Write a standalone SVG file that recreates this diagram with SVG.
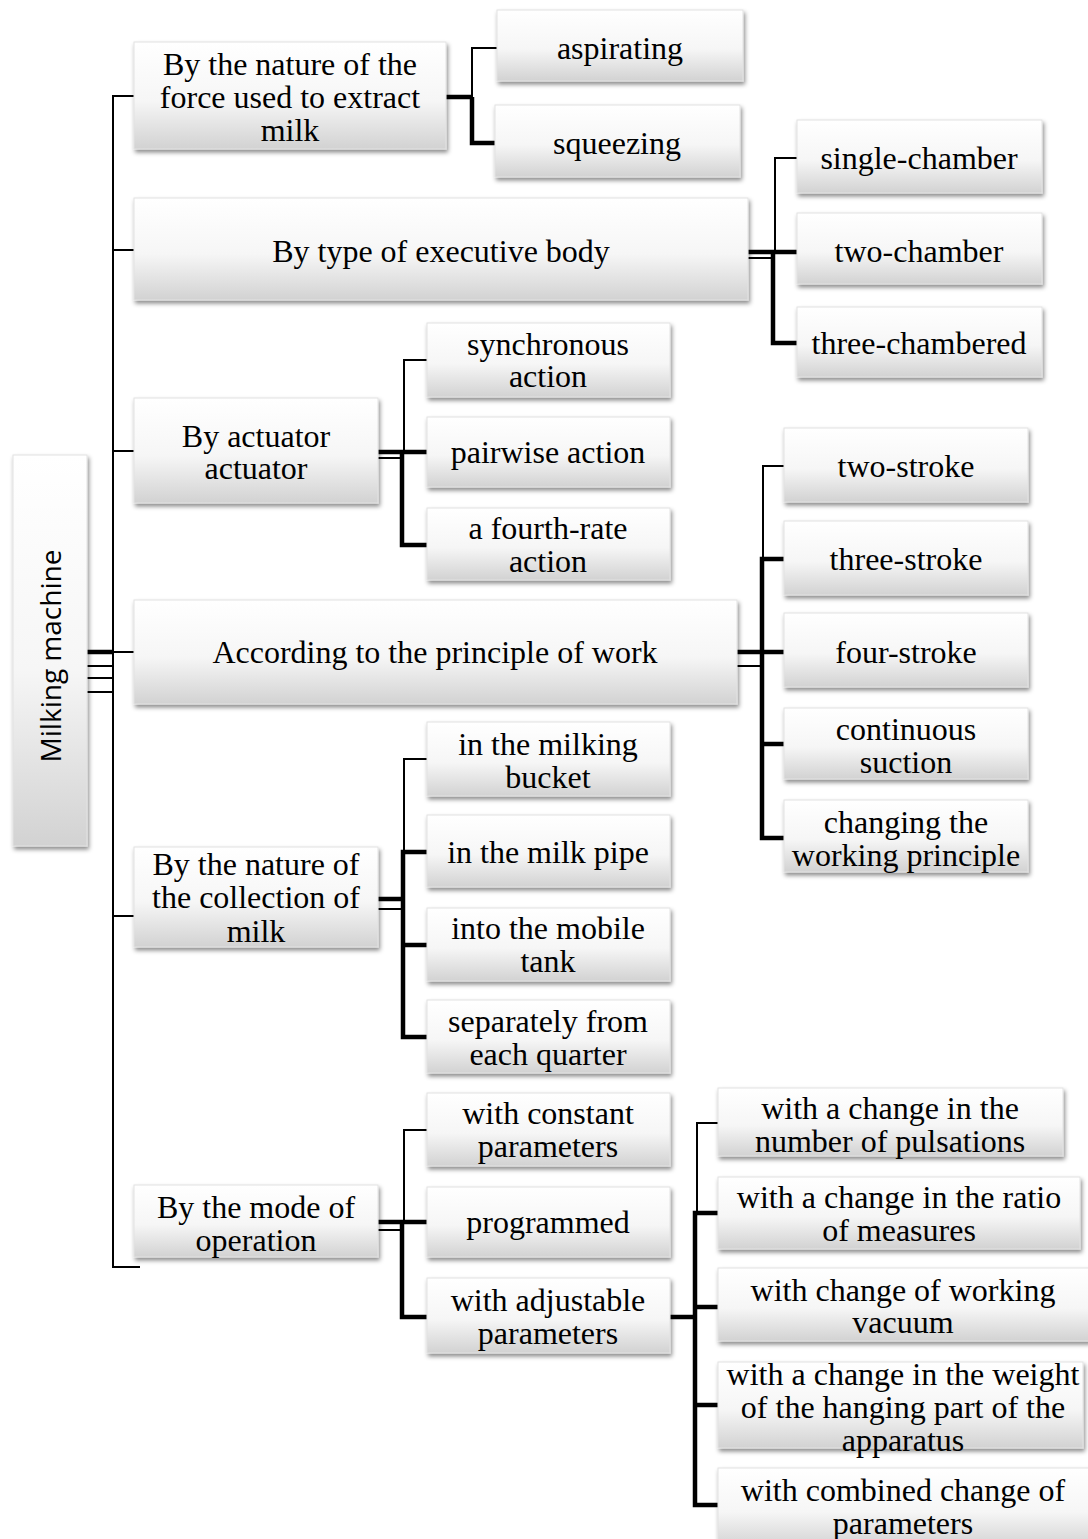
<svg xmlns="http://www.w3.org/2000/svg" width="1088" height="1539" viewBox="0 0 1088 1539">
<defs>
  <linearGradient id="gv" x1="0" y1="0" x2="0" y2="1">
    <stop offset="0" stop-color="#ffffff"/>
    <stop offset="0.55" stop-color="#f6f6f6"/>
    <stop offset="1" stop-color="#d2d2d2"/>
  </linearGradient>
  <filter id="sh" x="-10%" y="-10%" width="125%" height="130%">
    <feDropShadow dx="1.5" dy="3" stdDeviation="2" flood-color="#000" flood-opacity="0.45"/>
  </filter>
</defs>
<style>
  .box { fill: url(#gv); stroke: #e2e2e2; stroke-width: 1; filter: url(#sh); }
  .t { font-family: "Liberation Serif", "Times New Roman", serif; font-size: 32px; fill: #000; text-anchor: middle; }
  .root { font-family: "Open Sans", "Liberation Sans", sans-serif; font-size: 28px; fill: #000; text-anchor: middle; dominant-baseline: central; }
  .thin { stroke: #000; stroke-width: 2; fill: none; }
  .thick { stroke: #000; stroke-width: 4.5; fill: none; }
</style>
<rect width="1088" height="1539" fill="#ffffff"/>

<g id="connectors">
  <line class="thick" x1="87" y1="652" x2="113" y2="652"/>
  <line class="thin" x1="87" y1="666" x2="113" y2="666"/>
  <line class="thin" x1="87" y1="678" x2="113" y2="678"/>
  <line class="thin" x1="87" y1="692" x2="113" y2="692"/>
  <polyline class="thin" points="134,96 113,96 113,1267 140,1267"/>
  <line class="thin" x1="113" y1="250" x2="134" y2="250"/>
  <line class="thin" x1="113" y1="451" x2="134" y2="451"/>
  <line class="thin" x1="113" y1="652" x2="134" y2="652"/>
  <line class="thin" x1="113" y1="916" x2="134" y2="916"/>

  <line class="thick" x1="446" y1="97" x2="472" y2="97"/>
  <polyline class="thin" points="472,97 472,48 497,48"/>
  <polyline class="thick" points="472,97 472,143 496,143"/>

  <line class="thick" x1="748" y1="252" x2="775" y2="252"/>
  <line class="thin" x1="748" y1="258" x2="773" y2="258"/>
  <polyline class="thin" points="775,252 775,158 797,158"/>
  <line class="thick" x1="775" y1="252" x2="797" y2="252"/>
  <polyline class="thick" points="773,252 773,343 797,343"/>

  <line class="thick" x1="378" y1="452" x2="404" y2="452"/>
  <line class="thin" x1="378" y1="458" x2="402" y2="458"/>
  <polyline class="thin" points="404,452 404,360 427,360"/>
  <line class="thick" x1="404" y1="452" x2="427" y2="452"/>
  <polyline class="thick" points="402,452 402,545 427,545"/>

  <line class="thick" x1="737" y1="652" x2="762" y2="652"/>
  <line class="thin" x1="737" y1="666" x2="762" y2="666"/>
  <polyline class="thin" points="784,466 763,466 763,559"/>
  <polyline class="thick" points="784,559 762,559 762,838 784,838"/>
  <line class="thick" x1="762" y1="652" x2="784" y2="652"/>
  <line class="thick" x1="762" y1="744" x2="784" y2="744"/>

  <line class="thick" x1="378" y1="899" x2="403" y2="899"/>
  <line class="thin" x1="378" y1="909" x2="403" y2="909"/>
  <polyline class="thin" points="427,759 404,759 404,852"/>
  <polyline class="thick" points="427,852 403,852 403,1037 427,1037"/>
  <line class="thick" x1="403" y1="945" x2="427" y2="945"/>

  <line class="thick" x1="378" y1="1222" x2="404" y2="1222"/>
  <line class="thin" x1="378" y1="1230" x2="403" y2="1230"/>
  <polyline class="thin" points="404,1222 404,1130 427,1130"/>
  <line class="thick" x1="404" y1="1222" x2="427" y2="1222"/>
  <polyline class="thick" points="402,1222 402,1317 427,1317"/>

  <line class="thick" x1="670" y1="1317" x2="696" y2="1317"/>
  <polyline class="thin" points="718,1123 697,1123 697,1213"/>
  <polyline class="thick" points="718,1213 695,1213 695,1505 718,1505"/>
  <line class="thick" x1="695" y1="1307" x2="718" y2="1307"/>
  <line class="thick" x1="695" y1="1405" x2="718" y2="1405"/>
</g>

<g id="root">
  <rect class="box" x="13" y="455" width="74" height="391"/>
  <text class="root" transform="translate(50,656) rotate(-90)">Milking machine</text>
</g>

<g id="n1">
  <rect class="box" x="134" y="42" width="312" height="107"/>
  <text class="t"><tspan x="290" y="75">By the nature of the</tspan><tspan x="290" y="108">force used to extract</tspan><tspan x="290" y="141">milk</tspan></text>
</g>
<g id="n1a">
  <rect class="box" x="497" y="10" width="246" height="71"/>
  <text class="t" x="620" y="59">aspirating</text>
</g>
<g id="n1b">
  <rect class="box" x="495" y="105" width="245" height="72"/>
  <text class="t" x="617" y="154">squeezing</text>
</g>

<g id="n2">
  <rect class="box" x="134" y="198" width="614" height="102"/>
  <text class="t" x="441" y="262">By type of executive body</text>
</g>
<g id="n2a">
  <rect class="box" x="797" y="120" width="245" height="73"/>
  <text class="t" x="919" y="169">single-chamber</text>
</g>
<g id="n2b">
  <rect class="box" x="797" y="213" width="245" height="71"/>
  <text class="t" x="919" y="262">two-chamber</text>
</g>
<g id="n2c">
  <rect class="box" x="797" y="307" width="245" height="70"/>
  <text class="t" x="919" y="354">three-chambered</text>
</g>

<g id="n3">
  <rect class="box" x="134" y="398" width="244" height="105"/>
  <text class="t"><tspan x="256" y="447">By actuator</tspan><tspan x="256" y="479">actuator</tspan></text>
</g>
<g id="n3a">
  <rect class="box" x="427" y="323" width="243" height="74"/>
  <text class="t"><tspan x="548" y="355">synchronous</tspan><tspan x="548" y="387">action</tspan></text>
</g>
<g id="n3b">
  <rect class="box" x="427" y="417" width="243" height="70"/>
  <text class="t" x="548" y="463">pairwise action</text>
</g>
<g id="n3c">
  <rect class="box" x="427" y="508" width="243" height="72"/>
  <text class="t"><tspan x="548" y="539">a fourth-rate</tspan><tspan x="548" y="572">action</tspan></text>
</g>

<g id="n4">
  <rect class="box" x="134" y="600" width="603" height="104"/>
  <text class="t" x="435" y="663">According to the principle of work</text>
</g>
<g id="n4a">
  <rect class="box" x="784" y="428" width="244" height="74"/>
  <text class="t" x="906" y="477">two-stroke</text>
</g>
<g id="n4b">
  <rect class="box" x="784" y="521" width="244" height="74"/>
  <text class="t" x="906" y="570">three-stroke</text>
</g>
<g id="n4c">
  <rect class="box" x="784" y="613" width="244" height="74"/>
  <text class="t" x="906" y="663">four-stroke</text>
</g>
<g id="n4d">
  <rect class="box" x="784" y="708" width="244" height="71"/>
  <text class="t"><tspan x="906" y="740">continuous</tspan><tspan x="906" y="773">suction</tspan></text>
</g>
<g id="n4e">
  <rect class="box" x="784" y="800" width="244" height="72"/>
  <text class="t"><tspan x="906" y="833">changing the</tspan><tspan x="906" y="866">working principle</tspan></text>
</g>

<g id="n5">
  <rect class="box" x="134" y="847" width="244" height="100"/>
  <text class="t"><tspan x="256" y="875">By the nature of</tspan><tspan x="256" y="908">the collection of</tspan><tspan x="256" y="942">milk</tspan></text>
</g>
<g id="n5a">
  <rect class="box" x="427" y="722" width="243" height="74"/>
  <text class="t"><tspan x="548" y="755">in the milking</tspan><tspan x="548" y="788">bucket</tspan></text>
</g>
<g id="n5b">
  <rect class="box" x="427" y="815" width="243" height="72"/>
  <text class="t" x="548" y="863">in the milk pipe</text>
</g>
<g id="n5c">
  <rect class="box" x="427" y="908" width="243" height="73"/>
  <text class="t"><tspan x="548" y="939">into the mobile</tspan><tspan x="548" y="972">tank</tspan></text>
</g>
<g id="n5d">
  <rect class="box" x="427" y="1000" width="243" height="73"/>
  <text class="t"><tspan x="548" y="1032">separately from</tspan><tspan x="548" y="1065">each quarter</tspan></text>
</g>

<g id="n6">
  <rect class="box" x="134" y="1185" width="244" height="72"/>
  <text class="t"><tspan x="256" y="1218">By the mode of</tspan><tspan x="256" y="1251">operation</tspan></text>
</g>
<g id="n6a">
  <rect class="box" x="427" y="1093" width="243" height="73"/>
  <text class="t"><tspan x="548" y="1124">with constant</tspan><tspan x="548" y="1157">parameters</tspan></text>
</g>
<g id="n6b">
  <rect class="box" x="427" y="1187" width="243" height="70"/>
  <text class="t" x="548" y="1233">programmed</text>
</g>
<g id="n6c">
  <rect class="box" x="427" y="1278" width="243" height="75"/>
  <text class="t"><tspan x="548" y="1311">with adjustable</tspan><tspan x="548" y="1344">parameters</tspan></text>
</g>

<g id="n7a">
  <rect class="box" x="718" y="1088" width="345" height="68"/>
  <text class="t"><tspan x="890" y="1119">with a change in the</tspan><tspan x="890" y="1152">number of pulsations</tspan></text>
</g>
<g id="n7b">
  <rect class="box" x="718" y="1177" width="362" height="72"/>
  <text class="t"><tspan x="899" y="1208">with a change in the ratio</tspan><tspan x="899" y="1241">of measures</tspan></text>
</g>
<g id="n7c">
  <rect class="box" x="718" y="1268" width="372" height="73"/>
  <text class="t"><tspan x="903" y="1301">with change of working</tspan><tspan x="903" y="1333">vacuum</tspan></text>
</g>
<g id="n7d">
  <rect class="box" x="718" y="1362" width="365" height="86"/>
  <text class="t"><tspan x="903" y="1385">with a change in the weight</tspan><tspan x="903" y="1418">of the hanging part of the</tspan><tspan x="903" y="1451">apparatus</tspan></text>
</g>
<g id="n7e">
  <rect class="box" x="718" y="1468" width="372" height="80"/>
  <text class="t"><tspan x="903" y="1501">with combined change of</tspan><tspan x="903" y="1534">parameters</tspan></text>
</g>
</svg>
